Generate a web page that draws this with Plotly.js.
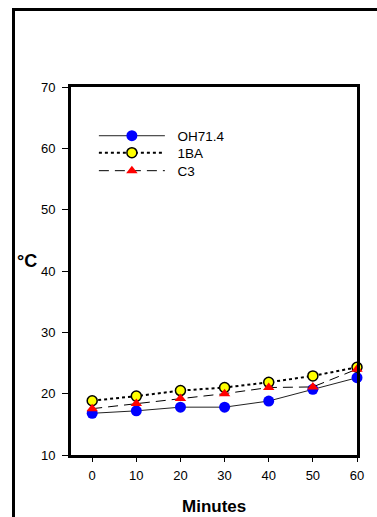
<!DOCTYPE html>
<html><head><meta charset="utf-8">
<script src="https://cdn.plot.ly/plotly-3.0.1.min.js"></script>
<style>
html,body{margin:0;padding:0;background:#fff;}
#wrap{position:relative;width:377px;height:517px;overflow:hidden;}
#chart{position:absolute;left:0;top:0;width:377px;height:517px;}
#frame{position:absolute;left:12px;top:8px;width:500px;height:600px;border-left:3px solid #000;border-top:3px solid #000;pointer-events:none;}
</style></head>
<body><div id="wrap"><div id="chart"></div><div id="frame"></div></div>
<script>
var minutes = [0, 10, 20, 30, 40, 50, 60];
var oh714 = [16.8, 17.2, 17.8, 17.8, 18.8, 20.7, 22.6];
var ba1 = [18.85, 19.6, 20.5, 21.0, 21.85, 22.9, 24.3];
var c3 = [17.55, 18.4, 19.2, 20.0, 21.0, 21.1, 24.0];
var seriesNames = ['OH71.4', '1BA', 'C3'];
var xTicks = [0, 10, 20, 30, 40, 50, 60];
var yTicks = [10, 20, 30, 40, 50, 60, 70];

var pad = '\u00a0\u00a0';
var traces = [
  {x: minutes, y: oh714, name: pad + seriesNames[0], legend: 'legend', mode: 'lines+markers', cliponaxis: false,
   line: {color: '#222', width: 1, dash: 'solid'},
   marker: {symbol: 'circle', size: 11, color: '#0000ff', line: {width: 0}}},
  {x: minutes, y: ba1, name: pad + seriesNames[1], legend: 'legend2', mode: 'lines+markers', cliponaxis: false,
   line: {color: '#000', width: 2, dash: 'dot'},
   marker: {symbol: 'circle', size: 10, color: '#ffff00', line: {width: 1.5, color: '#000'}}},
  {x: minutes, y: c3, name: pad + seriesNames[2], legend: 'legend3', mode: 'lines+markers', cliponaxis: false,
   line: {color: '#000', width: 1, dash: '10px,6px'},
   marker: {symbol: 'triangle-up', size: 10, color: '#ff0000', line: {width: 0}}}
];

function leg(y) {
  return {x: 0.08, y: y, xanchor: 'left', yanchor: 'middle', bgcolor: 'rgba(0,0,0,0)',
          font: {size: 13.5}, itemwidth: 66};
}

var layout = {
  width: 377, height: 517,
  margin: {l: 71, r: 20, t: 87, b: 62},
  paper_bgcolor: '#fff', plot_bgcolor: '#fff',
  font: {family: 'Liberation Sans, Arial, sans-serif', size: 13, color: '#000'},
  showlegend: true,
  legend: leg(0.867), legend2: leg(0.821), legend3: leg(0.772),
  xaxis: {range: [-4.8, 60], tickvals: xTicks, ticktext: xTicks.map(String),
          showgrid: false, zeroline: false, showline: true, linewidth: 3, linecolor: '#000',
          mirror: true, ticks: 'outside', ticklen: 4, tickwidth: 1, tickcolor: '#000',
          ticklabelstandoff: 2, tickfont: {size: 13}},
  yaxis: {range: [10, 70], tickvals: yTicks, ticktext: yTicks.map(String),
          showgrid: false, zeroline: false, showline: true, linewidth: 3, linecolor: '#000',
          mirror: true, ticks: 'outside', ticklen: 6, tickwidth: 1, tickcolor: '#000',
          ticklabelstandoff: 4, tickfont: {size: 13}},
  annotations: [
    {text: '<b>°C</b>', xref: 'paper', yref: 'paper', x: -0.1538, y: 0.527,
     xanchor: 'center', yanchor: 'middle', showarrow: false, font: {size: 18}},
    {text: '<b>Minutes</b>', xref: 'paper', yref: 'paper', x: 0.5, y: -0.1405,
     xanchor: 'center', yanchor: 'middle', showarrow: false, font: {size: 17}}
  ]
};
Plotly.newPlot('chart', traces, layout, {displayModeBar: false, staticPlot: true});
</script></body></html>
